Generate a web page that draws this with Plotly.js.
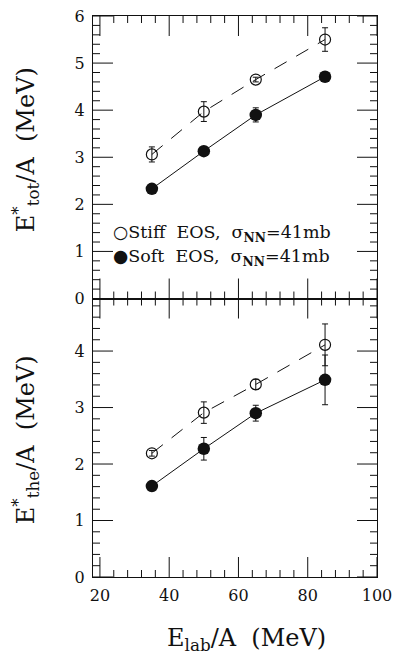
<!DOCTYPE html>
<html>
<head>
<meta charset="utf-8">
<script src="https://cdn.plot.ly/plotly-3.0.1.min.js"></script>
<style>
  html, body { margin: 0; padding: 0; background: #fff; }
  .modebar-container { display: none !important; }
</style>
</head>
<body>
<div id="chart" style="width:396px;height:662px"></div>
<script>
// Beam energy per nucleon (MeV)
const energies = [35, 50, 65, 85];

// Total excitation energy per nucleon (MeV)
const stiffTot    = [3.06, 3.97, 4.65, 5.50];
const stiffTotErr = [0.16, 0.21, 0.05, 0.25];
const softTot     = [2.33, 3.13, 3.90, 4.71];
const softTotErr  = [0.05, 0.05, 0.15, 0.08];

// Thermal excitation energy per nucleon (MeV)
const stiffThe    = [2.19, 2.91, 3.41, 4.11];
const stiffTheErr = [0.05, 0.19, 0.09, 0.37];
const softThe     = [1.61, 2.27, 2.90, 3.49];
const softTheErr  = [0.05, 0.20, 0.14, 0.44];

const FONT = 'DejaVu Serif, Liberation Serif, serif';
const INK = '#111111';

function stiffTrace(y, err, xa, ya) {
  return {
    x: energies, y: y, xaxis: xa, yaxis: ya, type: 'scatter', mode: 'lines+markers',
    line: { color: INK, width: 1, dash: '14px,11px' },
    marker: { symbol: 'circle-open', size: 11, color: INK, line: { width: 1.2, color: INK } },
    error_y: { type: 'data', array: err, visible: true, color: INK, thickness: 1, width: 3 },
    showlegend: false
  };
}
function softTrace(y, err, xa, ya) {
  return {
    x: energies, y: y, xaxis: xa, yaxis: ya, type: 'scatter', mode: 'lines+markers',
    line: { color: INK, width: 1 },
    marker: { symbol: 'circle', size: 12.5, color: INK },
    error_y: { type: 'data', array: err, visible: true, color: INK, thickness: 1, width: 3 },
    showlegend: false
  };
}

const traces = [
  stiffTrace(stiffTot, stiffTotErr, 'x2', 'y2'),
  softTrace(softTot, softTotErr, 'x2', 'y2'),
  stiffTrace(stiffThe, stiffTheErr, 'x', 'y'),
  softTrace(softThe, softTheErr, 'x', 'y')
];

const SPLIT = 0.4964;
const W = 396, H = 662;
const M = { l: 93, r: 19, t: 16, b: 85 };
const plotW = W - M.l - M.r;
const plotH = H - M.t - M.b;
const MAJOR_LEN = 20, MINOR_LEN = 7;

function frame(major, extra) {
  return Object.assign({
    tickmode: 'linear', tick0: major.tick0, dtick: major.dtick,
    ticks: '', showline: true, linecolor: INK, linewidth: 1, mirror: true,
    showgrid: false, zeroline: false,
    tickfont: { family: FONT, size: 16, color: INK },
    ticklabelstandoff: 4
  }, extra);
}

// Inside tick marks on all four sides of a panel, placed through the axis scales.
function frameTicks(xa, ya, xr, yr, xStep, xMajor, yStep, yMajor, panelH) {
  const out = [];
  const line = { color: INK, width: 1 };
  const nx = Math.round((xr[1] - xr[0]) / xStep);
  for (let i = 0; i <= nx; i++) {
    const v = xr[0] + i * xStep;
    const len = (Math.abs(v / xMajor - Math.round(v / xMajor)) < 1e-6 ? MAJOR_LEN : MINOR_LEN) / panelH;
    out.push({ type: 'line', xref: xa, yref: ya + ' domain', x0: v, x1: v, y0: 0, y1: len, line: line });
    out.push({ type: 'line', xref: xa, yref: ya + ' domain', x0: v, x1: v, y0: 1, y1: 1 - len, line: line });
  }
  const ny = Math.floor((yr[1] - yr[0]) / yStep + 1e-6);
  for (let j = 0; j <= ny; j++) {
    const v = yr[0] + j * yStep;
    const len = (Math.abs(v / yMajor - Math.round(v / yMajor)) < 1e-6 ? MAJOR_LEN : MINOR_LEN) / plotW;
    out.push({ type: 'line', xref: xa + ' domain', yref: ya, x0: 0, x1: len, y0: v, y1: v, line: line });
    out.push({ type: 'line', xref: xa + ' domain', yref: ya, x0: 1, x1: 1 - len, y0: v, y1: v, line: line });
  }
  return out;
}

const xRange = [20, 100];
const lowerRange = [0, 4.93];
const upperRange = [0, 6];

const shapes = []
  .concat(frameTicks('x', 'y', xRange, lowerRange, 4, 20, 0.2, 1, plotH * SPLIT))
  .concat(frameTicks('x2', 'y2', xRange, upperRange, 4, 20, 0.2, 1, plotH * (1 - SPLIT)));

function title(text, x, y, angle) {
  return { text: text, xref: 'paper', yref: 'paper', x: x, y: y, textangle: angle,
           xanchor: 'center', yanchor: 'middle', showarrow: false,
           font: { family: FONT, size: 24, color: INK } };
}
function legendRow(text, y) {
  return { text: text, xref: 'paper', yref: 'paper', x: 0.063, y: y,
           xanchor: 'left', yanchor: 'middle', showarrow: false,
           font: { family: FONT, size: 17.5, color: INK } };
}

const layout = {
  width: W, height: H,
  margin: M,
  showlegend: false,
  xaxis:  frame({ tick0: 20, dtick: 20 }, { anchor: 'y',  domain: [0, 1], range: [18, 100] }),
  xaxis2: frame({ tick0: 20, dtick: 20 }, { anchor: 'y2', domain: [0, 1], range: [18, 100], showticklabels: false }),
  yaxis:  frame({ tick0: 0, dtick: 1 }, { anchor: 'x',  domain: [0, SPLIT], range: lowerRange }),
  yaxis2: frame({ tick0: 0, dtick: 1 }, { anchor: 'x2', domain: [SPLIT, 1], range: upperRange }),
  shapes: shapes,
  annotations: [
    title('E<sub>lab</sub>/A  (MeV)', 0.539, -0.112, 0),
    title('E<sup>*</sup><sub>tot</sub>/A  (MeV)', -0.239, 0.761, -90),
    title('E<sup>*</sup><sub>the</sub>/A  (MeV)', -0.239, 0.244, -90),
    legendRow('○Stiff  EOS,  σ<sub><b>NN</b></sub>=41mb', 0.613),
    legendRow('●Soft  EOS,  σ<sub><b>NN</b></sub>=41mb', 0.570)
  ]
};

Plotly.newPlot('chart', traces, layout);
</script>
</body>
</html>
